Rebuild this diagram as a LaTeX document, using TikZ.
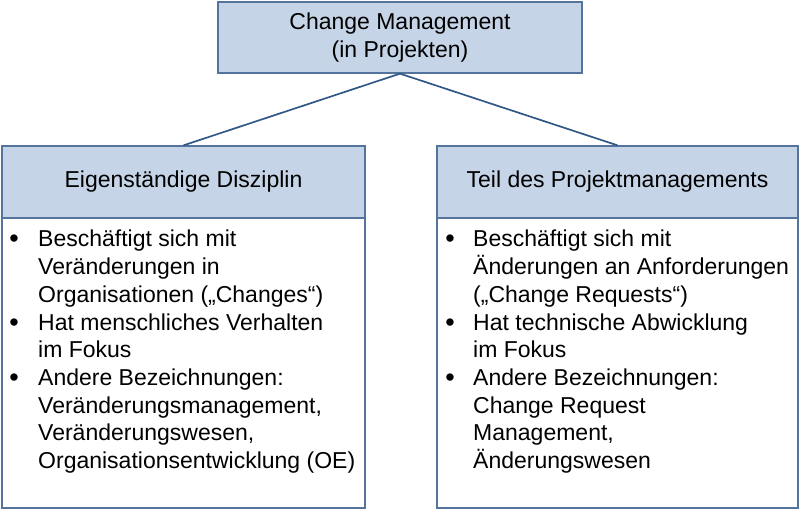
\documentclass[tikz,border=0pt]{standalone}
\usepackage{fontspec}
\setmainfont{Liberation Sans}
\definecolor{boxfill}{RGB}{198,212,231}
\definecolor{boxline}{RGB}{84,116,158}
\definecolor{conline}{RGB}{52,88,134}
\begin{document}
\begin{tikzpicture}[x=1pt,y=-1pt,
  txt/.style={font=\fontsize{23}{27.7}\selectfont, inner sep=0pt},
  head/.style={draw=boxline, line width=1.3pt, fill=boxfill, inner sep=0pt,
    font=\fontsize{23}{27.7}\selectfont, align=center},
  bodybox/.style={draw=boxline, line width=1.3pt, fill=white, inner sep=0pt},
  line/.style={txt, anchor=base west},
  bull/.style={font=\fontsize{27}{27.7}\selectfont, inner sep=0pt, anchor=base}
]
\useasboundingbox (0,0) rectangle (800,510);
% top
\node[head, minimum width=364pt, minimum height=71pt] (top) at (400,37.5) {Change Management\\(in Projekten)};
% left
\node[bodybox, minimum width=363pt, minimum height=290pt] (lb) at (183.5,363) {};
\node[head, minimum width=363pt, minimum height=72pt] (lh) at (183.5,182) {Eigenständige Disziplin};
% right
\node[bodybox, minimum width=361pt, minimum height=290pt] (rb) at (617.5,363) {};
\node[head, minimum width=361pt, minimum height=72pt] (rh) at (617.5,182) {Teil des Projektmanagements};
% connectors
\draw[conline, line width=1.7pt] (top.south) -- (lh.north);
\draw[conline, line width=1.7pt] (top.south) -- (rh.north);
% left text
\foreach \t [count=\i] in {Beschäftigt sich mit, Veränderungen in, Organisationen („Changes“), Hat menschliches Verhalten, im Fokus, Andere Bezeichnungen:, {Veränderungsmanagement,}, {Veränderungswesen,}, Organisationsentwicklung (OE)}
  \node[line] (l\i) at (38,{247+27.7*(\i-1)}) {\t};
\foreach \i in {1,4,6}
  \node[bull] (lbul\i) at (14,{248+27.7*(\i-1)}) {•};
% right text
\foreach \t [count=\i] in {Beschäftigt sich mit, Änderungen an Anforderungen, („Change Requests“), Hat technische Abwicklung, im Fokus, Andere Bezeichnungen:, Change Request, {Management,}, Änderungswesen}
  \node[line] (r\i) at (473,{247+27.7*(\i-1)}) {\t};
\foreach \i in {1,4,6}
  \node[bull] (rbul\i) at (450,{248+27.7*(\i-1)}) {•};
\end{tikzpicture}
\end{document}
